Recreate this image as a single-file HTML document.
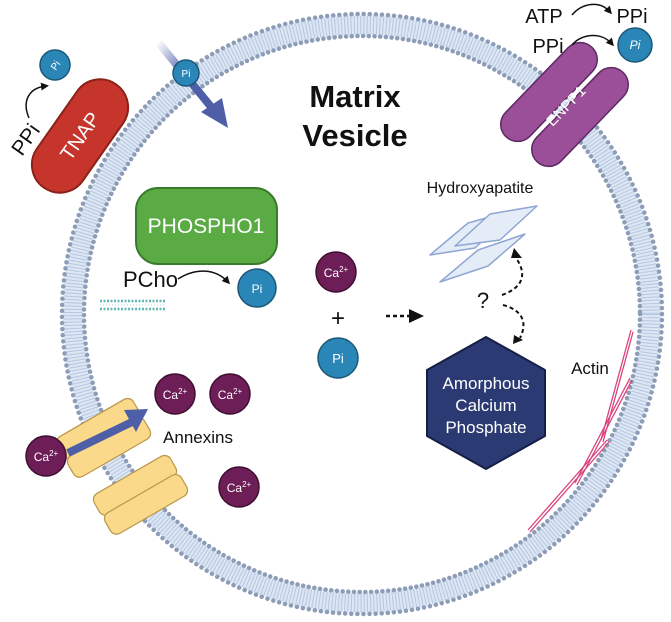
<!DOCTYPE html>
<html><head><meta charset="utf-8"><style>
html,body{margin:0;padding:0;background:#fff}
svg{display:block}
text{font-family:"Liberation Sans",sans-serif}
</style></head><body>
<svg width="671" height="622" viewBox="0 0 671 622" xmlns="http://www.w3.org/2000/svg">
<defs>
<marker id="ah" markerWidth="8" markerHeight="8" refX="5" refY="4" orient="auto" markerUnits="userSpaceOnUse"><path d="M0,0 L8,4 L0,8 z" fill="#111"/></marker>
<linearGradient id="ga" x1="0" y1="0" x2="1" y2="1"><stop offset="0" stop-color="#4e5fa8" stop-opacity="0"/><stop offset="0.5" stop-color="#4e5fa8"/></linearGradient>
</defs>
<!-- membrane -->
<circle cx="362" cy="314" r="289" fill="none" stroke="#dde6f3" stroke-width="20"/>
<circle cx="362" cy="314" r="289" fill="none" stroke="#b5c7e2" stroke-width="18" stroke-dasharray="1 2.2"/>
<circle cx="362" cy="314" r="300" fill="none" stroke="#8d9db8" stroke-width="4.5" stroke-linecap="round" stroke-dasharray="0.1 6"/>
<circle cx="362" cy="314" r="278" fill="none" stroke="#8d9db8" stroke-width="4.5" stroke-linecap="round" stroke-dasharray="0.1 5.6"/>

<!-- TNAP -->
<g transform="translate(80,136) rotate(-55)">
<rect x="-63" y="-28" width="126" height="56" rx="28" fill="#c5352c" stroke="#8c2119" stroke-width="2"/>
<text x="0" y="7" font-size="20" fill="#fff" text-anchor="middle">TNAP</text>
</g>
<circle cx="55" cy="65" r="15" fill="#2b86b8" stroke="#1b5878" stroke-width="1.5"/>
<text transform="translate(55,65) rotate(-55)" y="4" font-size="10" fill="#fff" text-anchor="middle">Pi</text>
<text transform="translate(22,157) rotate(-55)" font-size="21" fill="#111">PPi</text>
<path d="M29,118 C22,102 28,88 46,86" fill="none" stroke="#111" stroke-width="1.5" marker-end="url(#ah)"/>

<!-- Pi entering -->
<line x1="158" y1="42" x2="212" y2="108" stroke="url(#ga)" stroke-width="8"/>
<path d="M201,112 L228,128 L222,98 z" fill="#4e5fa8"/>
<circle cx="186" cy="73" r="13" fill="#2b86b8" stroke="#1b5878" stroke-width="1.5"/>
<text x="186" y="77" font-size="10" fill="#fff" text-anchor="middle">Pi</text>

<!-- title -->
<text x="355" y="107" font-size="31" font-weight="bold" fill="#111" text-anchor="middle">Matrix</text>
<text x="355" y="146" font-size="31" font-weight="bold" fill="#111" text-anchor="middle">Vesicle</text>

<!-- ENPP1 -->
<g transform="translate(549,92) rotate(-46)">
<rect x="-62" y="-17" width="124" height="34" rx="17" fill="#9b4f98" stroke="#5e2a64" stroke-width="1.5"/>
</g>
<g transform="translate(580,117) rotate(-46)">
<rect x="-62" y="-17" width="124" height="34" rx="17" fill="#9b4f98" stroke="#5e2a64" stroke-width="1.5"/>
</g>
<text transform="translate(566,106) rotate(-46)" y="5" font-size="15" fill="#fff" text-anchor="middle">ENPP1</text>
<text x="544" y="23" font-size="20" fill="#111" text-anchor="middle">ATP</text>
<text x="632" y="23" font-size="20" fill="#111" text-anchor="middle">PPi</text>
<text x="548" y="53" font-size="20" fill="#111" text-anchor="middle">PPi</text>
<path d="M572,15 C582,3 600,0 610,12" fill="none" stroke="#111" stroke-width="1.5" marker-end="url(#ah)"/>
<path d="M572,45 C582,33 602,32 612,44" fill="none" stroke="#111" stroke-width="1.5" marker-end="url(#ah)"/>
<circle cx="635" cy="45" r="17" fill="#2b86b8" stroke="#1b5878" stroke-width="1.5"/>
<text x="635" y="49" font-size="12" fill="#fff" text-anchor="middle" font-style="italic">Pi</text>

<!-- PHOSPHO1 -->
<rect x="136" y="188" width="141" height="76" rx="22" fill="#5bab45" stroke="#3a7a2b" stroke-width="2"/>
<text x="206" y="233" font-size="21" fill="#fff" text-anchor="middle">PHOSPHO1</text>
<text x="123" y="287" font-size="22" fill="#111">PCho</text>
<path d="M178,279 C195,268 215,268 228,282" fill="none" stroke="#111" stroke-width="1.5" marker-end="url(#ah)"/>
<circle cx="257" cy="288" r="19" fill="#2b86b8" stroke="#1b5878" stroke-width="1.5"/>
<text x="257" y="293" font-size="12" fill="#fff" text-anchor="middle">Pi</text>
<g stroke="#5fb6b2" stroke-width="1.2">
<line x1="100" y1="301" x2="165" y2="301" stroke-dasharray="2 1.5" stroke-width="2.5"/>
<line x1="100" y1="309" x2="165" y2="309" stroke-dasharray="2 1.5" stroke-width="2.5"/>
<line x1="100" y1="305" x2="165" y2="305" stroke="#bfe0de" stroke-dasharray="1 2"/>
</g>

<!-- Ca + Pi -->
<circle cx="336" cy="272" r="20" fill="#6e1e57" stroke="#3e0f30" stroke-width="1.5"/>
<text x="336" y="277" font-size="12" fill="#fff" text-anchor="middle">Ca<tspan dy="-5" font-size="8">2+</tspan></text>
<text x="338" y="326" font-size="24" fill="#111" text-anchor="middle">+</text>
<circle cx="338" cy="358" r="20" fill="#2b86b8" stroke="#1b5878" stroke-width="1.5"/>
<text x="338" y="363" font-size="13" fill="#fff" text-anchor="middle">Pi</text>
<line x1="386" y1="316" x2="410" y2="316" stroke="#111" stroke-width="2.5" stroke-dasharray="4 3"/>
<path d="M409,309 L424,316 L409,323 z" fill="#111"/>

<!-- Hydroxyapatite -->
<text x="480" y="193" font-size="16" fill="#111" text-anchor="middle">Hydroxyapatite</text>
<g fill="#e4ecf8" stroke="#8fa6d2" stroke-width="1.5" stroke-linejoin="round">
<path d="M430,255 L468,223 L515,210 L475,248 z"/>
<path d="M455,246 L490,214 L537,206 L500,240 z"/>
<path d="M440,282 L478,250 L525,234 L488,266 z"/>
</g>
<text x="483" y="308" font-size="22" fill="#111" text-anchor="middle">?</text>
<path d="M502,295 C522,288 528,275 516,258" fill="none" stroke="#111" stroke-width="2" stroke-dasharray="4 3"/>
<path d="M511,258 L514,248 L522,258 z" fill="#111"/>
<path d="M503,305 C522,310 528,322 520,338" fill="none" stroke="#111" stroke-width="2" stroke-dasharray="4 3"/>
<path d="M514,335 L513,344 L523,340 z" fill="#111"/>

<!-- ACP hexagon -->
<path d="M486,337 L545,370 L545,436 L486,469 L427,436 L427,370 z" fill="#2c3a73" stroke="#161f45" stroke-width="2" stroke-linejoin="round"/>
<text x="486" y="389" font-size="17" fill="#fff" text-anchor="middle">Amorphous</text>
<text x="486" y="411" font-size="17" fill="#fff" text-anchor="middle">Calcium</text>
<text x="486" y="433" font-size="17" fill="#fff" text-anchor="middle">Phosphate</text>

<!-- Actin -->
<text x="590" y="374" font-size="17" fill="#111" text-anchor="middle">Actin</text>
<g stroke="#d9437d" stroke-width="1.3" fill="none">
<line x1="631" y1="330" x2="601" y2="440"/><line x1="633" y1="332" x2="603" y2="442"/>
<line x1="630" y1="378" x2="575" y2="483"/><line x1="632" y1="380" x2="577" y2="485"/>
<line x1="607" y1="440" x2="528" y2="530"/><line x1="609" y1="442" x2="530" y2="532"/>
</g>

<!-- Annexin channels -->
<g transform="translate(103,437) rotate(-30)">
<rect x="-44" y="-22" width="88" height="24" rx="7" fill="#fbd98a" stroke="#b8974a" stroke-width="1.2"/>
<rect x="-44" y="0" width="88" height="24" rx="7" fill="#fbd98a" stroke="#b8974a" stroke-width="1.2"/>
</g>
<g transform="translate(140,494) rotate(-30)">
<rect x="-44" y="-22" width="88" height="24" rx="7" fill="#fbd98a" stroke="#b8974a" stroke-width="1.2"/>
<rect x="-44" y="0" width="88" height="24" rx="7" fill="#fbd98a" stroke="#b8974a" stroke-width="1.2"/>
</g>
<line x1="68" y1="453" x2="132" y2="422" stroke="#4e5fa8" stroke-width="8"/>
<path d="M124,410 L148,409 L136,432 z" fill="#4e5fa8"/>
<circle cx="46" cy="456" r="20" fill="#6e1e57" stroke="#3e0f30" stroke-width="1.5"/>
<text x="46" y="461" font-size="12" fill="#fff" text-anchor="middle">Ca<tspan dy="-5" font-size="8">2+</tspan></text>
<text x="198" y="443" font-size="17" fill="#111" text-anchor="middle">Annexins</text>
<circle cx="175" cy="394" r="20" fill="#6e1e57" stroke="#3e0f30" stroke-width="1.5"/>
<text x="175" y="399" font-size="12" fill="#fff" text-anchor="middle">Ca<tspan dy="-5" font-size="8">2+</tspan></text>
<circle cx="230" cy="394" r="20" fill="#6e1e57" stroke="#3e0f30" stroke-width="1.5"/>
<text x="230" y="399" font-size="12" fill="#fff" text-anchor="middle">Ca<tspan dy="-5" font-size="8">2+</tspan></text>
<circle cx="239" cy="487" r="20" fill="#6e1e57" stroke="#3e0f30" stroke-width="1.5"/>
<text x="239" y="492" font-size="12" fill="#fff" text-anchor="middle">Ca<tspan dy="-5" font-size="8">2+</tspan></text>
</svg>
</body></html>
